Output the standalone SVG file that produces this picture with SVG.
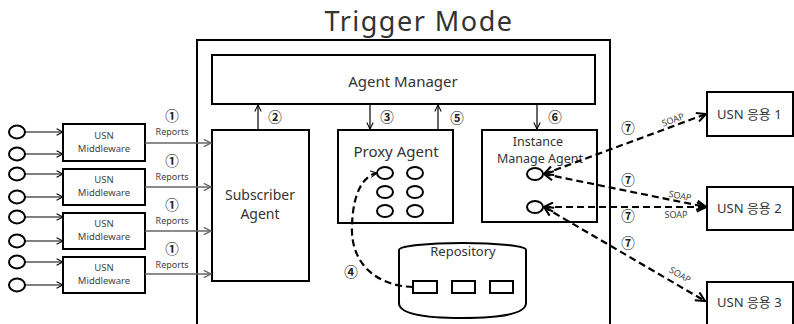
<svg xmlns="http://www.w3.org/2000/svg" width="794" height="324" viewBox="0 0 794 324">
  <style>
    text { font-family: "Noto Sans", "Noto Sans CJK KR", sans-serif; fill: #333; }
    .box { fill: #fff; stroke: #000; stroke-width: 2; }
    .dot { fill: #fff; stroke: #000; stroke-width: 2; }
    .thin { fill: none; stroke: #000; stroke-width: 1.2; }
    .gray { fill: none; stroke: #666; stroke-width: 1.5; }
    .dash { fill: none; stroke: #000; stroke-width: 2.2; stroke-dasharray: 7 4; }
    .num { font-size: 13.5px; font-weight: bold; fill: #222; }
    .small { font-size: 9px; fill: #444; }
    .mw { font-size: 9.5px; fill: #444; text-anchor: middle; }
    .soap { font-size: 9px; fill: #444; }
  </style>
  <defs>
    <marker id="arrThin" viewBox="0 0 10 10" refX="9" refY="5" markerWidth="8" markerHeight="8" markerUnits="userSpaceOnUse" orient="auto">
      <path d="M1,1 L9,5 L1,9" fill="none" stroke="#000" stroke-width="1.3"/>
    </marker>
    <marker id="arrGray" viewBox="0 0 10 10" refX="9" refY="5" markerWidth="9" markerHeight="9" markerUnits="userSpaceOnUse" orient="auto">
      <path d="M1,1 L9,5 L1,9" fill="none" stroke="#666" stroke-width="1.5"/>
    </marker>
    <marker id="arrBold" viewBox="0 0 12 12" refX="11" refY="6" markerWidth="11" markerHeight="11" markerUnits="userSpaceOnUse" orient="auto-start-reverse">
      <path d="M1,1 L11,6 L1,11" fill="none" stroke="#000" stroke-width="2.2"/>
    </marker>
  </defs>

  <!-- title -->
  <text x="419" y="31" font-size="27" letter-spacing="1.5" text-anchor="middle" fill="#222">Trigger Mode</text>

  <!-- outer system frame -->
  <rect x="197" y="40" width="413" height="300" class="box" fill="none"/>

  <!-- sensor sources -->
  <g id="sensors">
    <ellipse cx="17" cy="132" rx="8" ry="6.5" class="dot"/>
    <ellipse cx="17" cy="154" rx="8" ry="6.5" class="dot"/>
    <ellipse cx="17" cy="174" rx="8" ry="6.5" class="dot"/>
    <ellipse cx="17" cy="197" rx="8" ry="6.5" class="dot"/>
    <ellipse cx="17" cy="217" rx="8" ry="6.5" class="dot"/>
    <ellipse cx="17" cy="241" rx="8" ry="6.5" class="dot"/>
    <ellipse cx="17" cy="262" rx="8" ry="6.5" class="dot"/>
    <ellipse cx="17" cy="285" rx="8" ry="6.5" class="dot"/>
  </g>

  <g id="mw1">
    <rect x="63" y="124" width="82" height="37" class="box"/>
    <text x="104" y="139" class="mw">USN</text>
    <text x="104" y="152" class="mw">Middleware</text>
  </g>
  <g id="mw2">
    <rect x="63" y="169" width="82" height="36" class="box"/>
    <text x="104" y="183" class="mw">USN</text>
    <text x="104" y="196" class="mw">Middleware</text>
  </g>
  <g id="mw3">
    <rect x="63" y="213" width="82" height="36" class="box"/>
    <text x="104" y="227" class="mw">USN</text>
    <text x="104" y="240" class="mw">Middleware</text>
  </g>
  <g id="mw4">
    <rect x="63" y="257" width="82" height="36" class="box"/>
    <text x="104" y="271" class="mw">USN</text>
    <text x="104" y="284" class="mw">Middleware</text>
  </g>

  <g id="agentManager">
    <rect x="212" y="55" width="383" height="49" class="box"/>
    <text x="403" y="87" font-size="15" text-anchor="middle">Agent Manager</text>
  </g>

  <g id="subscriberAgent">
    <rect x="212" y="130" width="97" height="151" class="box"/>
    <text x="260" y="200" font-size="14" text-anchor="middle">Subscriber</text>
    <text x="260" y="219" font-size="14" text-anchor="middle">Agent</text>
  </g>

  <g id="proxyAgent">
    <rect x="338" y="130" width="115" height="93" class="box"/>
    <text x="396" y="157" font-size="15" text-anchor="middle">Proxy Agent</text>
    <ellipse cx="385" cy="173" rx="8" ry="6" class="dot"/>
    <ellipse cx="415" cy="173" rx="8" ry="6" class="dot"/>
    <ellipse cx="385" cy="192" rx="8" ry="6" class="dot"/>
    <ellipse cx="415" cy="192" rx="8" ry="6" class="dot"/>
    <ellipse cx="385" cy="211" rx="8" ry="6" class="dot"/>
    <ellipse cx="415" cy="211" rx="8" ry="6" class="dot"/>
  </g>

  <g id="instanceManageAgent">
    <rect x="482" y="130" width="115" height="92" class="box"/>
    <text x="538" y="146" font-size="12.5" text-anchor="middle">Instance</text>
    <text x="540" y="163" font-size="12.5" text-anchor="middle">Manage Agent</text>
    <ellipse cx="535" cy="174" rx="8" ry="6" class="dot"/>
    <ellipse cx="535" cy="207" rx="8" ry="6" class="dot"/>
  </g>

  <g id="repository">
    <path d="M399,250 A63.5,7 0 0 1 526,250 L526,303 Q526,318 462.5,318 Q399,318 399,303 Z" class="box"/>
    <text x="463" y="256" font-size="13" text-anchor="middle">Repository</text>
    <rect x="413" y="281" width="24" height="12" class="box"/>
    <rect x="452" y="281" width="23" height="12" class="box"/>
    <rect x="490" y="281" width="23" height="12" class="box"/>
  </g>

  <g id="app1">
    <rect x="707" y="92" width="86" height="44" class="box"/>
    <text x="717" y="119" font-size="13">USN 응용 1</text>
  </g>
  <g id="app2">
    <rect x="707" y="187" width="86" height="43" class="box"/>
    <text x="717" y="213" font-size="13">USN 응용 2</text>
  </g>
  <g id="app3">
    <rect x="707" y="282" width="86" height="60" class="box"/>
    <text x="717" y="307" font-size="13">USN 응용 3</text>
  </g>

  <g id="connectors">
    <!-- sensors into middleware -->
    <line x1="25" y1="132" x2="63" y2="132" class="thin" marker-end="url(#arrThin)"/>
    <line x1="25" y1="154" x2="63" y2="154" class="thin" marker-end="url(#arrThin)"/>
    <line x1="25" y1="174" x2="63" y2="174" class="thin" marker-end="url(#arrThin)"/>
    <line x1="25" y1="197" x2="63" y2="197" class="thin" marker-end="url(#arrThin)"/>
    <line x1="25" y1="217" x2="63" y2="217" class="thin" marker-end="url(#arrThin)"/>
    <line x1="25" y1="241" x2="63" y2="241" class="thin" marker-end="url(#arrThin)"/>
    <line x1="25" y1="262" x2="63" y2="262" class="thin" marker-end="url(#arrThin)"/>
    <line x1="25" y1="285" x2="63" y2="285" class="thin" marker-end="url(#arrThin)"/>

    <!-- reports into subscriber agent -->
    <line x1="145" y1="143" x2="211" y2="143" class="gray" marker-end="url(#arrGray)"/>
    <line x1="145" y1="187" x2="211" y2="187" class="gray" marker-end="url(#arrGray)"/>
    <line x1="145" y1="231" x2="211" y2="231" class="gray" marker-end="url(#arrGray)"/>
    <line x1="145" y1="274" x2="211" y2="274" class="gray" marker-end="url(#arrGray)"/>

    <!-- agent manager links -->
    <line x1="258" y1="130" x2="258" y2="105" class="thin" marker-end="url(#arrThin)"/>
    <line x1="370" y1="104" x2="370" y2="129" class="thin" marker-end="url(#arrThin)"/>
    <line x1="438" y1="130" x2="438" y2="105" class="thin" marker-end="url(#arrThin)"/>
    <line x1="537" y1="104" x2="537" y2="129" class="thin" marker-end="url(#arrThin)"/>

    <!-- repository to proxy instance -->
    <path d="M413,287 C378,286 350,265 352,225 C353,195 362,176 377,173" class="dash" stroke-width="2" marker-end="url(#arrThin)"/>

    <!-- SOAP exchanges -->
    <line x1="544" y1="174" x2="706" y2="114" class="dash" marker-start="url(#arrBold)" marker-end="url(#arrBold)"/>
    <line x1="544" y1="174" x2="706" y2="207" class="dash" marker-start="url(#arrBold)" marker-end="url(#arrBold)"/>
    <line x1="544" y1="207" x2="706" y2="207" class="dash" marker-start="url(#arrBold)" marker-end="url(#arrBold)"/>
    <line x1="544" y1="207" x2="705" y2="301" class="dash" marker-start="url(#arrBold)" marker-end="url(#arrBold)"/>
  </g>

  <!-- step numbers and labels -->
  <g id="labels">
    <text x="172" y="121" class="num" text-anchor="middle">①</text>
    <text x="172" y="135" class="small" text-anchor="middle">Reports</text>
    <text x="172" y="166" class="num" text-anchor="middle">①</text>
    <text x="172" y="180" class="small" text-anchor="middle">Reports</text>
    <text x="172" y="210" class="num" text-anchor="middle">①</text>
    <text x="172" y="224" class="small" text-anchor="middle">Reports</text>
    <text x="172" y="254" class="num" text-anchor="middle">①</text>
    <text x="172" y="268" class="small" text-anchor="middle">Reports</text>

    <text x="275" y="122" class="num" text-anchor="middle">②</text>
    <text x="387" y="122" class="num" text-anchor="middle">③</text>
    <text x="351" y="277" class="num" text-anchor="middle">④</text>
    <text x="457" y="123" class="num" text-anchor="middle">⑤</text>
    <text x="555" y="122" class="num" text-anchor="middle">⑥</text>

    <text x="628" y="133" class="num" text-anchor="middle">⑦</text>
    <text x="628" y="185" class="num" text-anchor="middle">⑦</text>
    <text x="628" y="221" class="num" text-anchor="middle">⑦</text>
    <text x="628" y="248" class="num" text-anchor="middle">⑦</text>

    <text x="673" y="123" class="soap" text-anchor="middle" transform="rotate(-20 673 120)">SOAP</text>
    <text x="680" y="199" class="soap" text-anchor="middle" transform="rotate(11 680 196)">SOAP</text>
    <text x="676" y="218" class="soap" text-anchor="middle">SOAP</text>
    <text x="680" y="278" class="soap" text-anchor="middle" transform="rotate(30 680 275)">SOAP</text>
  </g>
</svg>
